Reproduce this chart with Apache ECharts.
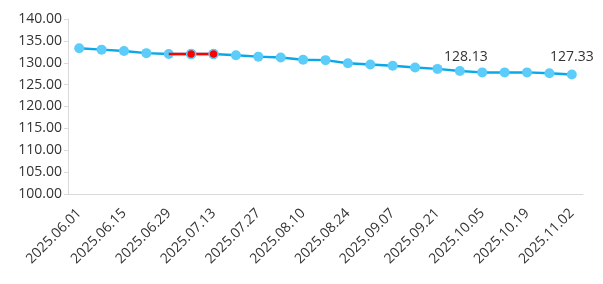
<!DOCTYPE html>
<html><head><meta charset="utf-8">
<script src="https://cdn.jsdelivr.net/npm/echarts@6/dist/echarts.min.js"></script>
<style>html,body{margin:0;padding:0;background:#fff}#c{width:603px;height:284px}</style>
</head><body><div id="c"></div>
<script>
const categories = ['2025.06.01','2025.06.08','2025.06.15','2025.06.22','2025.06.29','2025.07.06','2025.07.13','2025.07.20','2025.07.27','2025.08.03','2025.08.10','2025.08.17','2025.08.24','2025.08.31','2025.09.07','2025.09.14','2025.09.21','2025.09.28','2025.10.05','2025.10.12','2025.10.19','2025.10.26','2025.11.02'];
const values = [133.3,133.0,132.7,132.2,132.0,132.0,132.0,131.7,131.4,131.2,130.7,130.6,129.9,129.6,129.3,128.9,128.6,128.13,127.8,127.8,127.8,127.6,127.33];
const highlightStart = 4, highlightEnd = 6;
const labelledIdx = [17, 22];

const font = '"Open Sans", "Noto Sans", sans-serif';
const mainData = values.map((v, i) => {
  if (labelledIdx.includes(i)) {
    return {value: v, label: {show: true, position: 'top', distance: 4, offset: i === 17 ? [6, 2] : [0, -1],
      color: '#333', fontSize: 14, fontFamily: font, formatter: p => p.value.toFixed(2)}};
  }
  return v;
});
const redData = values.map((v, i) => {
  if (i < highlightStart || i > highlightEnd) return null;
  if (i === highlightStart) return {value: v, symbol: 'none'};
  return v;
});

const chart = echarts.init(document.getElementById('c'));
chart.setOption({
  animation: false,
  grid: {left: 68, right: 20, top: 19, bottom: 90},
  xAxis: {
    type: 'category', data: categories, boundaryGap: true,
    axisLine: {lineStyle: {color: '#d9d9d9'}},
    axisTick: {show: false},
    axisLabel: {interval: 1, rotate: 45, color: '#333', fontSize: 14, fontFamily: font, margin: 17}
  },
  yAxis: {
    type: 'value', min: 100, max: 140, interval: 5,
    axisLine: {show: true, lineStyle: {color: '#d9d9d9'}},
    axisTick: {show: true, length: 4, lineStyle: {color: '#d9d9d9'}},
    splitLine: {show: false},
    axisLabel: {color: '#333', fontSize: 14, fontFamily: font, formatter: v => v.toFixed(2), margin: 6}
  },
  series: [
    {type: 'line', data: mainData, symbol: 'circle', symbolSize: 10,
      lineStyle: {color: '#0aa8e6', width: 2.5}, itemStyle: {color: '#5ccdfa'}, z: 2},
    {type: 'line', data: redData, symbol: 'circle', symbolSize: 9, connectNulls: false,
      lineStyle: {color: '#ff0000', width: 2.5},
      itemStyle: {color: '#ff0000', borderColor: '#5ccdfa', borderWidth: 1.5}, z: 3}
  ]
});
</script></body></html>
